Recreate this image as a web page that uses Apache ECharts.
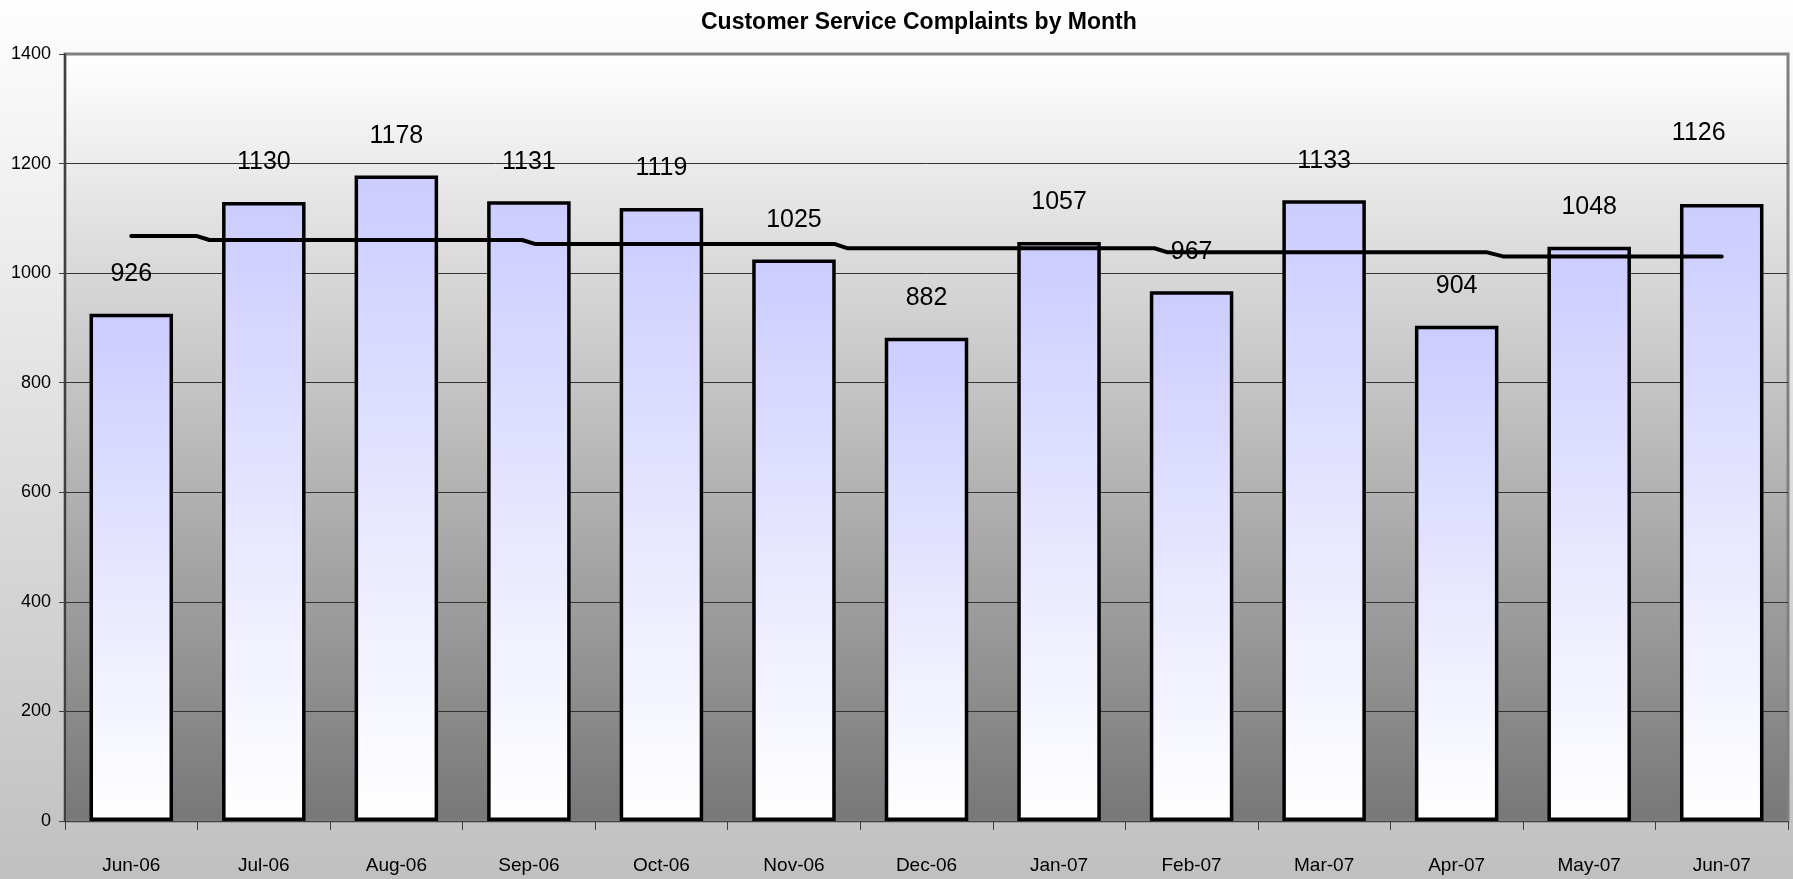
<!DOCTYPE html>
<html>
<head>
<meta charset="utf-8">
<script src="https://cdn.jsdelivr.net/npm/echarts@6/dist/echarts.min.js"></script>
<style>
html,body{margin:0;padding:0;background:#fff;}
#chart{width:1793px;height:879px;}
</style>
</head>
<body>
<div id="chart"></div>
<script>
const months = ['Jun-06','Jul-06','Aug-06','Sep-06','Oct-06','Nov-06','Dec-06','Jan-07','Feb-07','Mar-07','Apr-07','May-07','Jun-07'];
const complaints = [926, 1130, 1178, 1131, 1119, 1025, 882, 1057, 967, 1133, 904, 1048, 1126];
// trend line: [category position, value]
const trendX = [0, 0.49, 0.59, 2.95, 3.05, 5.31, 5.40, 7.72, 7.82, 10.23, 10.35, 12];
const trendY = [1068, 1068, 1060.5, 1060.5, 1053, 1053, 1045.5, 1045.5, 1038, 1038, 1030.5, 1030.5];
const yTicks = [0, 200, 400, 600, 800, 1000, 1200, 1400];

const FONT = "'Liberation Sans Narrow','Arial Narrow','Liberation Sans',Arial,sans-serif";
const chart = echarts.init(document.getElementById('chart'));

const barData = complaints.map((v, i) => {
  const item = {value: v};
  if (i === complaints.length - 1) {
    item.label = {offset: [-23, -32]};
  }
  return item;
});

chart.setOption({
  animation: false,
  backgroundColor: new echarts.graphic.LinearGradient(0, 0, 0, 1, [
    {offset: 0, color: '#fefefe'},
    {offset: 1, color: '#c0c0c0'}
  ]),
  title: {
    text: 'Customer Service Complaints by Month',
    left: 696,
    top: 6,
    textStyle: {fontFamily: FONT, fontWeight: 'bold', fontSize: 23, color: '#000'}
  },
  grid: {
    left: 65, right: 5, top: 54, bottom: 58,
    show: true,
    backgroundColor: new echarts.graphic.LinearGradient(0, 0, 0, 1, [
      {offset: 0, color: '#ffffff'},
      {offset: 1, color: '#777777'}
    ]),
    borderColor: '#808080',
    borderWidth: 3
  },
  xAxis: [{
    type: 'category',
    data: months,
    axisLine: {onZero: false, lineStyle: {color: '#404040', width: 1}},
    axisTick: {show: true, alignWithLabel: false, length: 9, lineStyle: {color: '#404040'}},
    axisLabel: {fontFamily: FONT, fontSize: 19, color: '#000', margin: 35, interval: 0}
  }, {
    type: 'value',
    min: -0.5, max: 12.5,
    show: false
  }],
  yAxis: {
    type: 'value',
    min: 0, max: 1400, interval: 200,
    axisLine: {show: true, onZero: false, lineStyle: {color: '#404040', width: 2}},
    axisTick: {show: true, length: 6, lineStyle: {color: '#404040'}},
    axisLabel: {fontFamily: FONT, fontSize: 18, color: '#000', margin: 14,
      formatter: v => yTicks.includes(v) ? String(v) : ''},
    splitLine: {show: true, showMaxLine: false, lineStyle: {color: '#333', width: 1}}
  },
  series: [{
    type: 'bar',
    data: barData,
    barWidth: '63%',
    itemStyle: {
      color: new echarts.graphic.LinearGradient(0, 0, 0, 1, [
        {offset: 0, color: '#ccccff'},
        {offset: 1, color: '#ffffff'}
      ]),
      borderColor: '#000',
      borderWidth: 3.5
    },
    label: {
      show: true,
      position: 'top',
      distance: 27,
      fontFamily: FONT,
      fontSize: 25,
      color: '#000'
    },
    z: 2
  }, {
    type: 'line',
    xAxisIndex: 1,
    data: trendX.map((x, i) => [x, trendY[i]]),
    symbol: 'none',
    lineStyle: {color: '#000', width: 4, cap: 'round'},
    z: 3
  }]
});
</script>
</body>
</html>
